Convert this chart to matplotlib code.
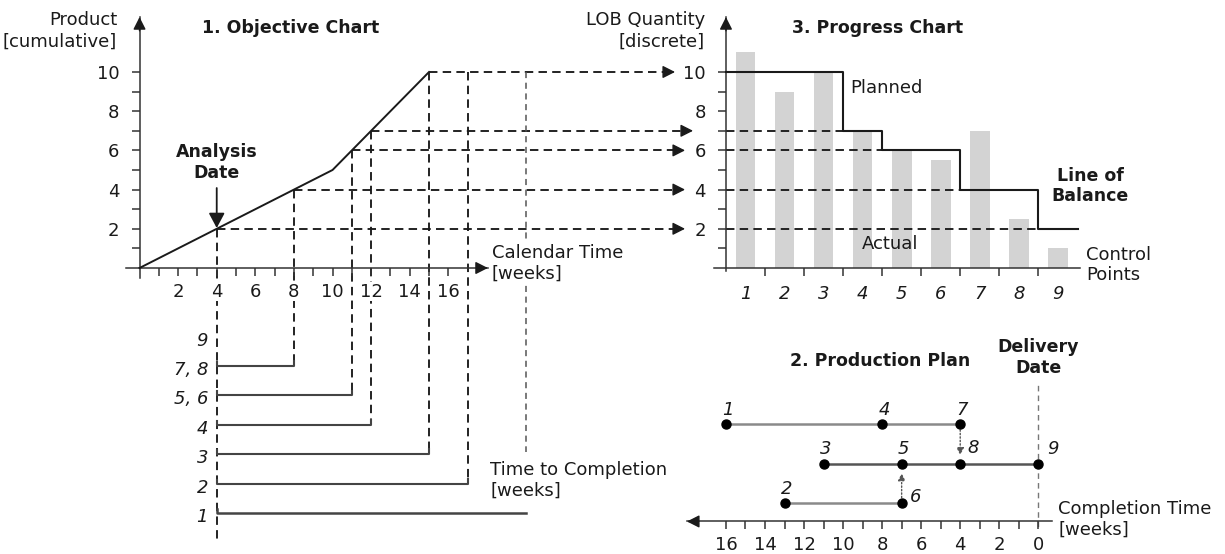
import numpy as np
import matplotlib
matplotlib.use('Agg')
import matplotlib.pyplot as plt

plt.rcParams['font.family'] = ['DejaVu Sans']

# ---------------- data ----------------
# 1. Objective chart: cumulative product vs calendar weeks
obj_weeks = [0, 10, 15]
obj_units = [0, 5, 10]
calendar_ticks = list(range(1, 17))
calendar_labels = ['' if t % 2 else str(t) for t in calendar_ticks]
product_ticks = list(range(1, 11))
product_labels = ['' if t % 2 else str(t) for t in product_ticks]

analysis_week = 4
analysis_units = 2

lob_weeks = [4, 8, 11, 12, 15]
lob_units = [2, 4, 6, 7, 10]

# time to completion (control points and the calendar week they are due)
ttc_labels = ['9', '7, 8', '5, 6', '4', '3', '2', '1']
ttc_end = [4, 8, 11, 12, 15, 17, 20]

# 3. Progress chart
control_points = [1, 2, 3, 4, 5, 6, 7, 8, 9]
actual_qty = [11, 9, 10, 7, 6, 5.5, 7, 2.5, 1]
planned_qty = [10, 10, 10, 7, 6, 6, 4, 4, 2]

# 2. Production plan (weeks before delivery)
plan_weeks = [[16, 8, 4], [11, 7, 4, 0], [13, 7]]
plan_names = [['1', '4', '7'], ['3', '5', '8', '9'], ['2', '6']]
completion_ticks = list(range(0, 17))
completion_labels = ['' if t % 2 else str(t) for t in completion_ticks]

# ---------------- layout ----------------
W, H = 1225, 554
fig = plt.figure(figsize=(W / 100, H / 100), dpi=100)
INK = '#1a1a1a'
AXC = '#333333'
DASH = dict(ls=(0, (4.5, 2.8)), lw=1.35, color=INK)
FS = 13
FSB = 12.5


def px_axes(x0, x1, y0, y1):
    ax = fig.add_axes([x0 / W, 1 - y1 / H, (x1 - x0) / W, (y1 - y0) / H])
    ax.patch.set_visible(False)
    return ax


def arrow_head(ax, tip, frm, color=INK, size=10, lw=1.0, **kw):
    ax.annotate('', xy=tip, xytext=frm, annotation_clip=False,
                arrowprops=dict(arrowstyle='-|>,head_length=0.75,head_width=0.38',
                                mutation_scale=size, color=color, lw=lw,
                                shrinkA=0, shrinkB=0, **kw))


def style_axes(ax, left=True):
    ax.spines['top'].set_visible(False)
    ax.spines['right'].set_visible(False)
    if not left:
        ax.spines['left'].set_visible(False)
    for s in ax.spines.values():
        s.set_color(AXC)
        s.set_linewidth(1.1)
    ax.tick_params(axis='both', which='both', direction='out', length=5.5,
                   width=1.1, color=AXC, labelsize=FS, labelcolor=INK)
    ax.set_axisbelow(False)


# ======== 1. Objective chart ========
ax1 = px_axes(126.4, 487.9, 17.1, 277.8)
ax1.set_xlim(-0.68, 18.05)
ax1.set_ylim(-0.5, 12.8)
style_axes(ax1)
ax1.spines['left'].set_position(('data', 0))
ax1.spines['bottom'].set_position(('data', 0))
ax1.set_xticks(calendar_ticks)
ax1.set_xticklabels(calendar_labels)
ax1.set_yticks(product_ticks)
ax1.set_yticklabels(product_labels)
ax1.tick_params(axis='x', pad=5)
ax1.tick_params(axis='y', pad=9)
for lab in ax1.get_xticklabels():
    lab.set_bbox(dict(facecolor='white', edgecolor='none', pad=0.6))
arrow_head(ax1, (0, 12.8), (0, 12.1))
arrow_head(ax1, (18.05, 0), (17.5, 0))

ax1.plot(obj_weeks, obj_units, color=INK, lw=1.4, zorder=3)

# horizontal projections to the progress chart
tip_px = {2: 685, 4: 685, 6: 685, 7: 693, 10: 675}
for w, u in zip(lob_weeks, lob_units):
    tip = (tip_px[u] - 139.5) / 19.3
    ax1.plot([w, tip - 0.5], [u, u], clip_on=False, **DASH)
    arrow_head(ax1, (tip, u), (tip - 0.52, u))

# time to completion rows
row_y = [-3.5 - 1.5 * k for k in range(len(ttc_labels))]
ax1.plot([analysis_week, analysis_week], [analysis_units, -14.0], clip_on=False, **DASH)
for k, (lab, end) in enumerate(zip(ttc_labels, ttc_end)):
    y = row_y[k]
    ax1.text(3.55, y - 0.2, lab, ha='right', va='center', fontsize=FS,
             style='italic', color=INK)
    if k == 0:
        continue
    top = float(np.interp(end, obj_weeks, obj_units))
    if k == len(ttc_labels) - 1:
        ax1.plot([end, end], [top, -9.37], clip_on=False, ls=(0, (4, 3)),
                 lw=1.1, color='#555555')
        ax1.plot([analysis_week, analysis_week, end], [y + 0.2, y, y],
                 clip_on=False, color='#444444', lw=1.8)
    else:
        ax1.plot([end, end], [top, y + 0.2], clip_on=False, **DASH)
        ax1.plot([analysis_week, analysis_week, end, end],
                 [y + 0.2, y, y, y + 0.25], clip_on=False,
                 color='#444444', lw=1.5)

# analysis date arrow
ax1.annotate('', xy=(analysis_week, 2.04), xytext=(analysis_week, 4.08),
             arrowprops=dict(arrowstyle='-|>,head_length=0.75,head_width=0.4',
                             mutation_scale=12, color=INK, lw=1.3,
                             shrinkA=0, shrinkB=0))
ax1.text(analysis_week, 5.38, 'Analysis\nDate', ha='center', va='center',
         fontsize=FSB, fontweight='bold', color=INK)
ax1.text(7.84, 12.24, '1. Objective Chart', ha='center', va='center',
         fontsize=FSB, fontweight='bold', color=INK)
ax1.text(-1.16, 12.08, 'Product\n[cumulative]', ha='right', va='center',
         fontsize=FS, color=INK, linespacing=1.25)
ax1.text(18.26, 0.23, 'Calendar Time\n[weeks]', ha='left', va='center',
         fontsize=FS, color=INK, linespacing=1.2,
         bbox=dict(facecolor='white', edgecolor='none', pad=0.5))
ax1.text(18.16, -10.82, 'Time to Completion\n[weeks]', ha='left', va='center',
         fontsize=FS, color=INK, linespacing=1.2)

# ======== 3. Progress chart ========
ax3 = px_axes(714.25, 1079.5, 17.1, 270.94)
ax3.set_xlim(0.2, 9.55)
ax3.set_ylim(-0.15, 12.8)
style_axes(ax3)
ax3.spines['left'].set_position(('data', 0.5))
ax3.spines['bottom'].set_position(('data', 0))
ax3.bar(control_points, actual_qty, width=0.5, color='#d3d3d3', zorder=1)
step_x = [0.5] + [c + 0.5 for c in control_points]
step_y = planned_qty + [planned_qty[-1]]
ax3.step(step_x, step_y, where='post', color=INK, lw=1.5, zorder=3)
for u in lob_units:
    first = next(c for c, p in zip(control_points, planned_qty) if p <= u)
    x_end = first - 0.5
    if x_end > 0.5:
        ax3.plot([0.5, x_end], [u, u], zorder=2, **DASH)
ax3.set_xticks(control_points)
ax3.set_xticklabels([str(c) for c in control_points])
ax3.set_xticks([c + 0.5 for c in control_points[:-1]], minor=True)
ax3.tick_params(axis='x', which='major', length=0, pad=12)
ax3.tick_params(axis='y', pad=9)
for lab in ax3.get_xticklabels():
    lab.set_style('italic')
ax3.set_yticks(product_ticks)
ax3.set_yticklabels(product_labels)
arrow_head(ax3, (0.5, 12.8), (0.5, 12.1))
ax3.text(4.37, 12.24, '3. Progress Chart', ha='center', va='center',
         fontsize=FSB, fontweight='bold', color=INK)
ax3.text(-0.04, 12.08, 'LOB Quantity\n[discrete]', ha='right', va='center',
         fontsize=FS, color=INK, linespacing=1.25)
ax3.text(3.68, 9.18, 'Planned', ha='left', va='center', fontsize=FS, color=INK)
ax3.text(9.82, 4.18, 'Line of\nBalance', ha='center', va='center',
         fontsize=FSB, fontweight='bold', color=INK)
ax3.text(3.98, 1.22, 'Actual', ha='left', va='center', fontsize=FS, color=INK)
ax3.text(9.72, 0.15, 'Control\nPoints', ha='left', va='center', fontsize=FS,
         color=INK, linespacing=1.2)

# ======== 2. Production plan ========
ax2 = px_axes(686.94, 1051.96, 380.85, 527.0)
ax2.set_xlim(18, -0.7)
ax2.set_ylim(0.4, 4.1)
style_axes(ax2, left=False)
ax2.spines['bottom'].set_position(('data', 0.54))
ax2.set_yticks([])
ax2.set_xticks(completion_ticks)
ax2.set_xticklabels(completion_labels)
ax2.tick_params(axis='x', pad=5)
arrow_head(ax2, (18, 0.54), (17.4, 0.54))
ax2.plot([0, 0], [0.4, 4.0], ls=(0, (4, 3)), color='#777777', lw=1.0, zorder=1)

row_colors = ['#8a8a8a', '#555555', '#8a8a8a']
side_labels = {'8': (9.5, 11.5), '9': (10.4, 10.8), '6': (10, 4.8)}
for r, (weeks, names) in enumerate(zip(plan_weeks, plan_names)):
    y = 3 - r
    ax2.plot(weeks, [y] * len(weeks), color=row_colors[r], lw=1.8, zorder=2)
    ax2.plot(weeks, [y] * len(weeks), 'o', color='black', ms=6.5, zorder=4)
    for w, n in zip(weeks, names):
        off = side_labels.get(n, (1.5, 10.5))
        ax2.annotate(n, (w, y), xytext=off, textcoords='offset points',
                     ha='center', va='center', fontsize=FS, style='italic',
                     color=INK, annotation_clip=False)

dotted = dict(arrowstyle='-|>,head_length=0.6,head_width=0.3', mutation_scale=7,
              color='#555555', lw=1.0, linestyle=(0, (1, 1.5)),
              shrinkA=4, shrinkB=0)
ax2.annotate('', xy=(4, 2.22), xytext=(4, 3), arrowprops=dotted)
ax2.annotate('', xy=(7, 1.76), xytext=(7, 1), arrowprops=dotted)

ax2.text(8.11, 4.61, '2. Production Plan', ha='center', va='center',
         fontsize=FSB, fontweight='bold', color=INK)
ax2.text(0, 4.69, 'Delivery\nDate', ha='center', va='center',
         fontsize=FSB, fontweight='bold', color=INK)
ax2.text(-1.02, 0.60, 'Completion Time\n[weeks]', ha='left', va='center',
         fontsize=FS, color=INK, linespacing=1.2)

fig.savefig('out.png', dpi=100)
